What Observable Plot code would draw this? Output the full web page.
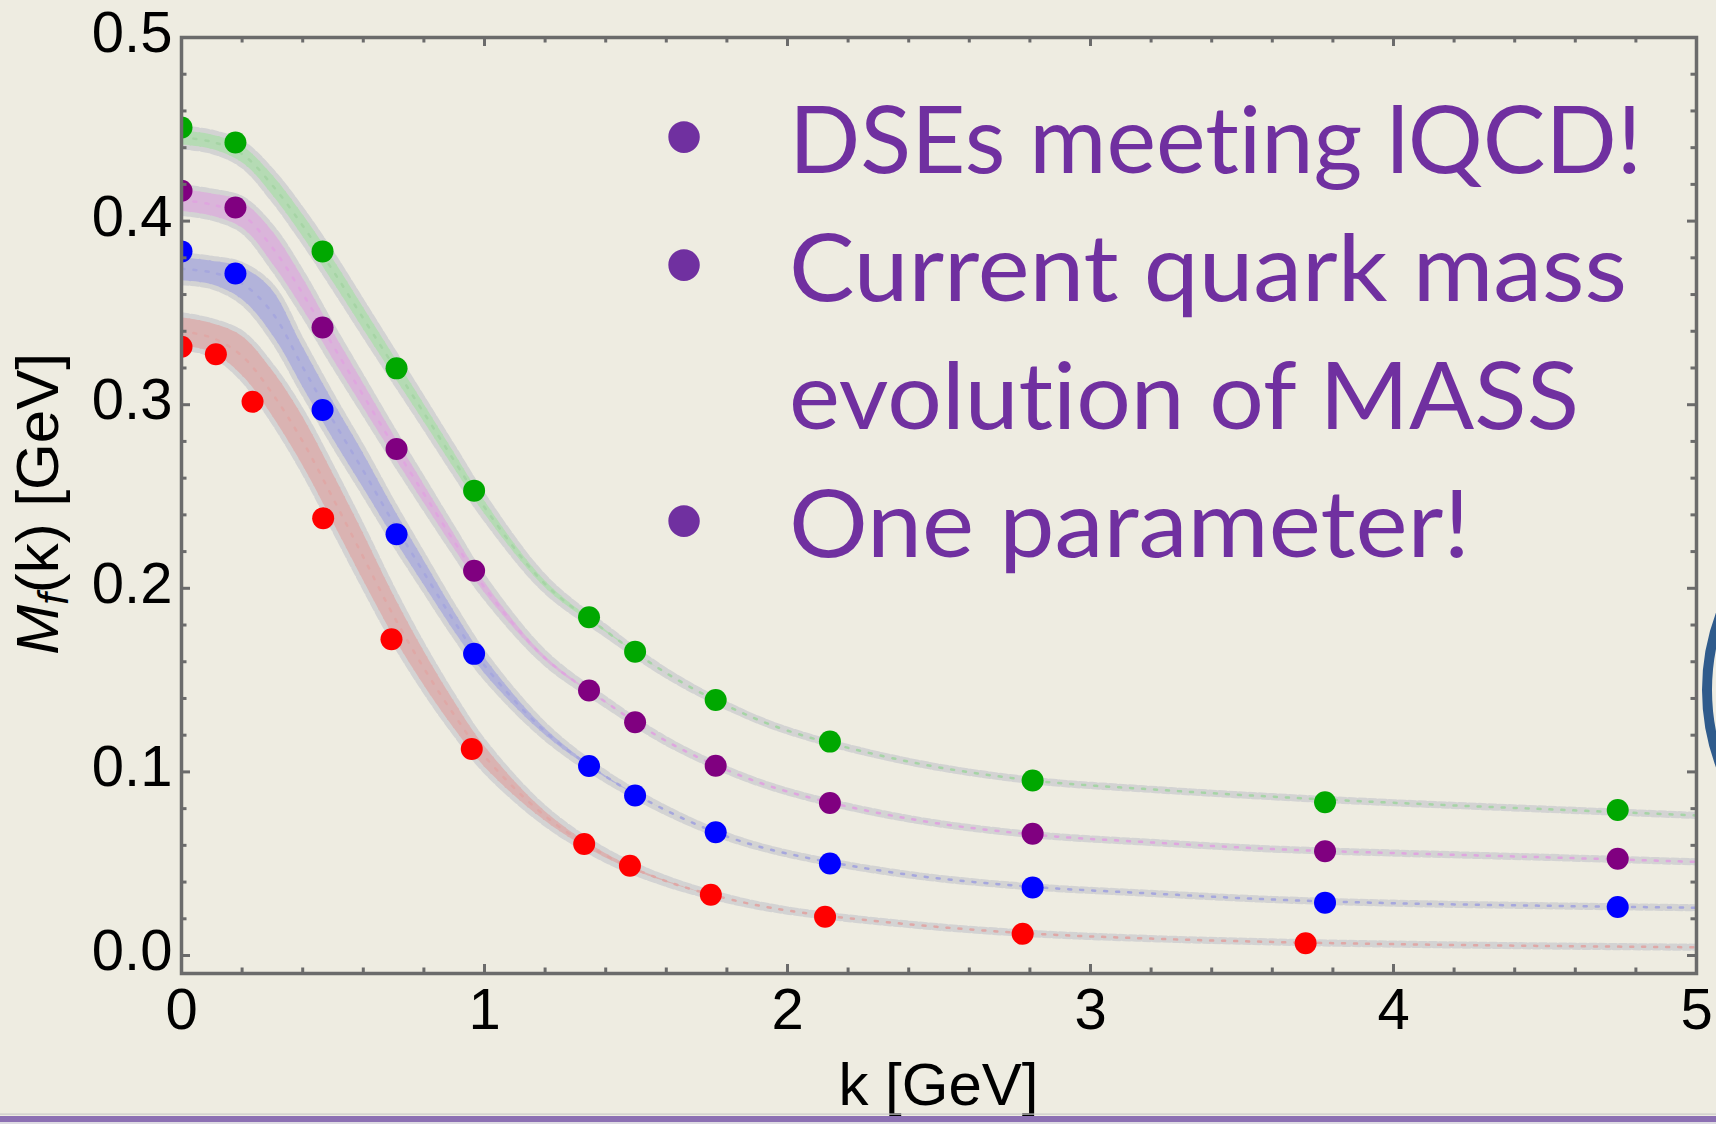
<!DOCTYPE html>
<html>
<head>
<meta charset="utf-8">
<script src="https://cdn.jsdelivr.net/npm/d3@7"></script>
<script src="https://cdn.jsdelivr.net/npm/@observablehq/plot@0.6"></script>
<style>
html, body { margin: 0; padding: 0; background: #EEECE1; }
#chart { position: relative; width: 1716px; height: 1124px; overflow: hidden; }
.note { font-variant-ligatures: none; font-feature-settings: "liga" 0, "clig" 0; }
</style>
</head>
<body>
<div id="chart"></div>
<script>
// ---------- data ----------
// band (DSE result) sampled at these momenta [GeV]
const kGrid = [0, 0.1, 0.2, 0.3, 0.4, 0.5, 0.6, 0.7, 0.8, 0.9, 1.0, 1.2, 1.4, 1.6, 1.8, 2.0, 2.4, 2.8, 3.2, 3.6, 4.0, 4.5, 5.0];

const greenMid  = [0.4456, 0.4432, 0.4365, 0.4195, 0.3975, 0.3730, 0.3470, 0.3212, 0.2955, 0.2695, 0.2441, 0.2023, 0.1768, 0.1538, 0.1360, 0.1225, 0.1056, 0.0955, 0.0905, 0.0865, 0.0832, 0.0797, 0.0763];
const greenHalf = [0.0052, 0.0053, 0.0062, 0.0075, 0.0083, 0.0087, 0.0084, 0.0079, 0.0073, 0.0067, 0.0058, 0.0037, 0.0022, 0.0015, 0.0010, 0.0008, 0.0007, 0.0007, 0.0006, 0.0006, 0.0006, 0.0006, 0.0006];

const purpleMid  = [0.4115, 0.4090, 0.4035, 0.3855, 0.3605, 0.3322, 0.3050, 0.2778, 0.2515, 0.2255, 0.2005, 0.1620, 0.1380, 0.1168, 0.1010, 0.0893, 0.0745, 0.0660, 0.0616, 0.0580, 0.0558, 0.0535, 0.0510];
const purpleHalf = [0.0073, 0.0074, 0.0088, 0.0110, 0.0110, 0.0101, 0.0092, 0.0083, 0.0075, 0.0064, 0.0051, 0.0029, 0.0018, 0.0012, 0.0009, 0.0008, 0.0007, 0.0006, 0.0006, 0.0006, 0.0006, 0.0006, 0.0006];

const blueMid  = [0.3740, 0.3720, 0.3660, 0.3500, 0.3205, 0.2915, 0.2640, 0.2355, 0.2085, 0.1820, 0.1580, 0.1220, 0.0975, 0.0790, 0.0648, 0.0555, 0.0440, 0.0375, 0.0338, 0.0305, 0.0285, 0.0271, 0.0260];
const blueHalf = [0.0076, 0.0078, 0.0104, 0.0144, 0.0137, 0.0128, 0.0120, 0.0106, 0.0092, 0.0078, 0.0064, 0.0036, 0.0021, 0.0014, 0.0010, 0.0008, 0.0007, 0.0006, 0.0006, 0.0006, 0.0006, 0.0006, 0.0006];

const redMid  = [0.3400, 0.3365, 0.3265, 0.3060, 0.2800, 0.2490, 0.2170, 0.1850, 0.1565, 0.1310, 0.1085, 0.0760, 0.0545, 0.0405, 0.0310, 0.0245, 0.0170, 0.0120, 0.0092, 0.0074, 0.0062, 0.0052, 0.0045];
const redHalf = [0.0090, 0.0093, 0.0125, 0.0147, 0.0159, 0.0161, 0.0157, 0.0140, 0.0118, 0.0097, 0.0077, 0.0043, 0.0027, 0.0018, 0.0012, 0.0009, 0.0007, 0.0007, 0.0006, 0.0006, 0.0006, 0.0006, 0.0006];

// lattice points
const latticeK = [0, 0.178, 0.4655, 0.7097, 0.9657, 1.345, 1.497, 1.763, 2.140, 2.809, 3.774, 4.740];
const greenPts  = [0.4510, 0.4428, 0.3835, 0.3198, 0.2532, 0.1842, 0.1655, 0.1392, 0.1165, 0.0953, 0.0835, 0.0793];
const purplePts = [0.4165, 0.4074, 0.3421, 0.2759, 0.2096, 0.1443, 0.1270, 0.1033, 0.0831, 0.0663, 0.0568, 0.0527];
const bluePts   = [0.3835, 0.3715, 0.2971, 0.2294, 0.1643, 0.1032, 0.0872, 0.0671, 0.0501, 0.0370, 0.0288, 0.0264];
const redK      = [0, 0.1135, 0.2345, 0.4676, 0.693, 0.958, 1.329, 1.480, 1.747, 2.124, 2.776, 3.710];
const redPts    = [0.3316, 0.3275, 0.3016, 0.2382, 0.1723, 0.1125, 0.0607, 0.0489, 0.0331, 0.0211, 0.0118, 0.0067];

// ticks
const xTicks = [0, 1, 2, 3, 4, 5];
const xMinor = [0.2, 0.4, 0.6, 0.8, 1.2, 1.4, 1.6, 1.8, 2.2, 2.4, 2.6, 2.8, 3.2, 3.4, 3.6, 3.8, 4.2, 4.4, 4.6, 4.8];
const yTicks = [0, 0.1, 0.2, 0.3, 0.4, 0.5];
const yMinor = [0.02, 0.04, 0.06, 0.08, 0.12, 0.14, 0.16, 0.18, 0.22, 0.24, 0.26, 0.28, 0.32, 0.34, 0.36, 0.38, 0.42, 0.44, 0.46, 0.48];

// texts
const xLabel = "k [GeV]";
const yLabelParts = ["M", "f", "(k) [GeV]"];
const noteLines = ["DSEs meeting lQCD!", "Current quark mass", "evolution of MASS", "One parameter!"];
const noteBullets = [true, true, false, true];

// ---------- styling ----------
const W = 1716, H = 1124;
const mL = 181, mR = 20, mT = 37, mB = 151;
const plotW = W - mL - mR, plotH = H - mT - mB;
const frameColor = "#6b6b6b";

const series = [
  {mid: greenMid,  half: greenHalf,  k: latticeK, m: greenPts,  fill: "#b5dbb4", dash: "#a6d4a5", dot: "#00a800"},
  {mid: purpleMid, half: purpleHalf, k: latticeK, m: purplePts, fill: "#dab5da", dash: "#dfa6df", dot: "#800080"},
  {mid: blueMid,   half: blueHalf,   k: latticeK, m: bluePts,   fill: "#b2b3da", dash: "#a6a7dd", dot: "#0000ff"},
  {mid: redMid,    half: redHalf,    k: redK,     m: redPts,    fill: "#dab3b2", dash: "#dfa8a6", dot: "#ff0000"}
];

const marks = [];
series.forEach(s => {
  const rows = kGrid.map((k, i) => ({k, mid: s.mid[i], lo: s.mid[i] - s.half[i], hi: s.mid[i] + s.half[i]}));
  marks.push(Plot.areaY(rows, {x: "k", y1: "lo", y2: "hi", fill: s.fill, curve: "catmull-rom", clip: true}));
  marks.push(Plot.line(rows, {x: "k", y: "lo", stroke: "#d3d3d3", strokeWidth: 5, strokeDasharray: "7,3", curve: "catmull-rom", clip: true}));
  marks.push(Plot.line(rows, {x: "k", y: "hi", stroke: "#d3d3d3", strokeWidth: 5, strokeDasharray: "7,3", curve: "catmull-rom", clip: true}));
  marks.push(Plot.line(rows, {x: "k", y: "mid", stroke: s.dash, strokeWidth: 2.5, strokeDasharray: "3,9", curve: "catmull-rom", clip: true}));
});
series.forEach(s => {
  const pts = s.k.map((k, i) => ({k, m: s.m[i]}));
  marks.push(Plot.dot(pts, {x: "k", y: "m", r: 11, fill: s.dot, stroke: null, clip: true}));
});

// inward frame ticks (all four sides)
const tk = {stroke: frameColor, strokeWidth: 3};
marks.push(
  Plot.ruleX(xTicks, {...tk, insetTop: plotH - 9}),
  Plot.ruleX(xTicks, {...tk, insetBottom: plotH - 9}),
  Plot.ruleX(xMinor, {...tk, insetTop: plotH - 5.5}),
  Plot.ruleX(xMinor, {...tk, insetBottom: plotH - 5.5}),
  Plot.ruleY(yTicks, {...tk, insetRight: plotW - 9}),
  Plot.ruleY(yTicks, {...tk, insetLeft: plotW - 9}),
  Plot.ruleY(yMinor, {...tk, insetRight: plotW - 5.5}),
  Plot.ruleY(yMinor, {...tk, insetLeft: plotW - 5.5}),
  Plot.frame({stroke: frameColor, strokeWidth: 3.5}),
  Plot.axisX(xTicks, {anchor: "bottom", tickSize: 0, tickPadding: 14, fontSize: 58, tickFormat: d => String(d), label: null}),
  Plot.axisY(yTicks, {anchor: "left", tickSize: 0, tickPadding: 9, fontSize: 58, tickFormat: d => d.toFixed(1), label: null, dy: -4})
);

const chart = Plot.plot({
  width: W, height: H,
  marginLeft: mL, marginRight: mR, marginTop: mT, marginBottom: mB,
  x: {domain: [0, 5], label: null},
  y: {domain: [-0.0098, 0.5], label: null},
  style: {background: "#EEECE1", fontFamily: "'Liberation Sans', Arial, Helvetica, sans-serif", color: "black", overflow: "visible"},
  marks
});
document.getElementById("chart").appendChild(chart);

const svg = d3.select(chart);

// x-axis label
svg.append("text")
  .attr("x", (mL + W - mR) / 2).attr("y", 1105)
  .attr("text-anchor", "middle")
  .attr("font-size", 60)
  .attr("font-family", "'Liberation Sans', Arial, sans-serif")
  .attr("fill", "black").text(xLabel);

// y-axis label with italic M and subscript f
const yl = svg.append("text")
  .attr("transform", "translate(58,504) rotate(-90)")
  .attr("text-anchor", "middle")
  .attr("font-size", 60)
  .attr("font-family", "'Liberation Sans', Arial, sans-serif")
  .attr("fill", "black");
yl.append("tspan").attr("font-style", "italic").text(yLabelParts[0]);
yl.append("tspan").attr("font-style", "italic").attr("font-size", 42).attr("dy", 10).text(yLabelParts[1]);
yl.append("tspan").attr("dy", -10).text(yLabelParts[2]);

// slide annotation (purple bullet list)
const purple = "#7030A0";
const noteX = 789, noteBullX = 684, noteBase = [173, 301, 429, 557], noteLen = [853, 838, 790, 681];
noteLines.forEach((t, i) => {
  if (noteBullets[i]) {
    svg.append("text").attr("x", noteBullX).attr("y", noteBase[i] + 3)
      .attr("text-anchor", "middle").attr("font-size", 116)
      .attr("font-family", "'Liberation Sans', Arial, sans-serif")
      .attr("fill", purple).text("\u2022");
  }
  svg.append("text").attr("class", "note").attr("x", noteX).attr("y", noteBase[i])
    .attr("text-anchor", "start")
    .attr("font-size", 94).attr("font-family", "Lato, 'Open Sans', sans-serif")
    .attr("textLength", noteLen[i]).attr("lengthAdjust", "spacingAndGlyphs")
    .attr("fill", purple).text(t);
});

// slide decorations: partial logo ring at right edge and bottom rule
svg.append("circle").attr("cx", 1923).attr("cy", 690).attr("r", 216)
  .attr("fill", "none").attr("stroke", "#2f5b8c").attr("stroke-width", 10);
svg.append("rect").attr("x", 0).attr("y", 1113.5).attr("width", W).attr("height", 1.2).attr("fill", "#c9c9c9");
svg.append("rect").attr("x", 0).attr("y", 1116).attr("width", W).attr("height", 6).attr("fill", "#8c70b3");
svg.append("rect").attr("x", 0).attr("y", 1122).attr("width", W).attr("height", 2).attr("fill", "#dedbe3");
</script>
</body>
</html>
